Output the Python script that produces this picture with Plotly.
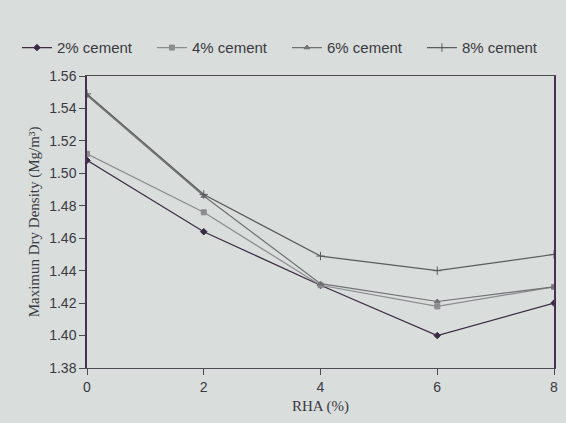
import plotly.graph_objects as go

rha = [0, 2, 4, 6, 8]
cement_2 = [1.508, 1.464, 1.431, 1.400, 1.420]
cement_4 = [1.512, 1.476, 1.431, 1.418, 1.430]
cement_6 = [1.548, 1.486, 1.432, 1.421, 1.430]
cement_8 = [1.549, 1.487, 1.449, 1.440, 1.450]
names = ["2% cement", "4% cement", "6% cement", "8% cement"]
y_ticks = [1.38, 1.40, 1.42, 1.44, 1.46, 1.48, 1.50, 1.52, 1.54, 1.56]

series = [cement_2, cement_4, cement_6, cement_8]
colors = ["#3b2b45", "#8a8c8e", "#6f7173", "#5a5c5e"]
symbols = ["diamond", "square", "triangle-up", "cross-thin"]
sizes = [5, 5, 5, 6]

fig = go.Figure()
for name, vals, c, s, sz in zip(names, series, colors, symbols, sizes):
    fig.add_trace(go.Scatter(
        x=rha, y=vals, name=name, mode="lines+markers",
        line=dict(color=c, width=1.2),
        marker=dict(symbol=s, size=sz, color=c, line=dict(color=c, width=1)),
    ))

serif = "Liberation Serif, DejaVu Serif, serif"
sans = "Liberation Sans, DejaVu Sans, sans-serif"
fig.update_layout(
    width=566, height=423,
    paper_bgcolor="#d9dddc", plot_bgcolor="#d9dddc",
    margin=dict(l=87, r=8, t=76, b=55),
    font=dict(family=serif, size=14, color="#3a3a40"),
    showlegend=True,
    legend=dict(orientation="h", x=-0.15, y=1.04, xanchor="left", yanchor="bottom",
                xref="paper", yref="paper",
                font=dict(size=15, family=sans, color="#3a3a40"),
                bgcolor="rgba(0,0,0,0)", itemwidth=30,
                entrywidth=90, entrywidthmode="pixels"),
    xaxis=dict(range=[0, 8], tickvals=rha, ticktext=[str(v) for v in rha],
               tickfont=dict(family=sans, size=14),
               showgrid=False, zeroline=False, showline=True, linecolor="#4a4a50",
               linewidth=1, ticks="outside", ticklen=6, tickcolor="#4a4a50",
               mirror=True,
               title=dict(text="RHA (%)", font=dict(size=15, family=serif), standoff=6)),
    yaxis=dict(range=[1.38, 1.56], tickvals=y_ticks,
               ticktext=[f"{v:.2f}" for v in y_ticks],
               tickfont=dict(family=sans, size=14),
               showgrid=False, zeroline=False, showline=True, linecolor="#4a3050",
               linewidth=1.5, ticks="outside", ticklen=6, tickcolor="#4a4a50",
               mirror=True,
               title=dict(text="Maximun Dry Density (Mg/m³)", font=dict(size=15, family=serif), standoff=6)),
)
fig.write_html("out.html")
